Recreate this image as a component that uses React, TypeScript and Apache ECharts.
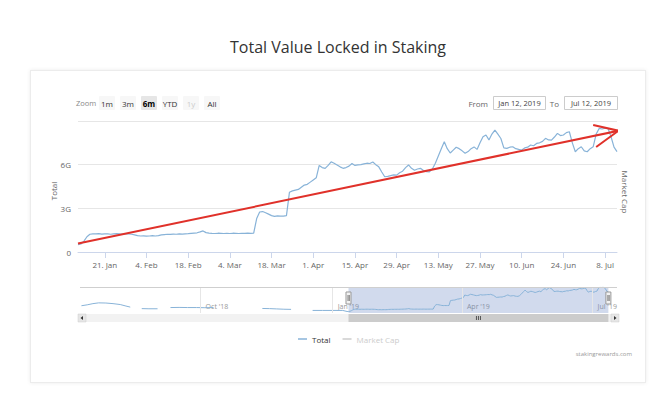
import React, { useEffect, useRef } from "react";
import * as echarts from "echarts";

// ---------- data ----------
const chartTitle = "Total Value Locked in Staking";
const startDate = "2019-01-12";
// Total value locked (billions USD), one value per day from 12 Jan 2019 to 12 Jul 2019
const totalValues = [
  0.5, 0.55, 0.75, 1.05, 1.22, 1.25, 1.24, 1.26, 1.23, 1.25,
  1.24, 1.22, 1.25, 1.26, 1.24, 1.23, 1.25, 1.24, 1.22, 1.18,
  1.13, 1.1, 1.11, 1.09, 1.1, 1.12, 1.1, 1.13, 1.18, 1.2,
  1.22, 1.21, 1.23, 1.22, 1.24, 1.23, 1.25, 1.26, 1.28, 1.3,
  1.32, 1.38, 1.45, 1.33, 1.3, 1.28, 1.27, 1.29, 1.28, 1.27,
  1.28, 1.27, 1.29, 1.28, 1.27, 1.28, 1.28, 1.29, 1.28, 1.3,
  2.3, 2.75, 2.78, 2.7, 2.6, 2.5, 2.45, 2.48, 2.46, 2.47,
  2.5, 4.1, 4.2, 4.25, 4.3, 4.45, 4.6, 4.65, 4.8, 4.95,
  5.1, 5.95, 5.8, 5.75, 5.95, 6.2, 6.1, 5.98, 5.85, 5.75,
  5.8, 5.9, 6.08, 5.95, 5.98, 6.0, 6.05, 6.1, 6.08, 6.18,
  6.0, 5.85, 5.5, 5.17, 5.2, 5.25, 5.3, 5.28, 5.45, 5.55,
  5.8, 5.98, 5.75, 5.62, 5.7, 5.75, 5.6, 5.52, 5.5, 5.7,
  6.1, 6.6, 7.1, 7.58, 7.1, 6.8, 7.0, 7.2, 7.1, 6.95,
  6.78, 6.9, 7.1, 7.22, 7.05, 7.5, 7.92, 8.04, 7.7, 8.1,
  8.38, 8.1, 7.8, 7.15, 7.12, 7.2, 7.23, 7.1, 7.05, 7.01,
  7.15, 7.2, 7.35, 7.3, 7.46, 7.5, 7.6, 7.81, 7.7, 7.69,
  7.9, 8.15, 8.0, 8.04, 8.2, 8.26, 7.5, 6.89, 7.1, 7.23,
  6.95, 6.89, 7.1, 7.23, 8.1, 8.49, 8.45, 8.5, 8.48, 7.92,
  7.2, 6.9,
];
const marketCapValues: number[] = [];

const tickDates = [
  "2019-01-21", "2019-02-04", "2019-02-18", "2019-03-04", "2019-03-18", "2019-04-01", "2019-04-15",
  "2019-04-29", "2019-05-13", "2019-05-27", "2019-06-10", "2019-06-24", "2019-07-08",
];
const tickLabels = [
  "21. Jan", "4. Feb", "18. Feb", "4. Mar", "18. Mar", "1. Apr", "15. Apr",
  "29. Apr", "13. May", "27. May", "10. Jun", "24. Jun", "8. Jul",
];
const yTickValues = [0, 3, 6, 9];
const yTickLabels = ["0", "3G", "6G", ""];

// navigator: earlier history (gaps = "-")
const navDates2018 = [
  "2018-07-10", "2018-07-14", "2018-07-18", "2018-07-22", "2018-07-27", "2018-08-01", "2018-08-06",
  "2018-08-10", "2018-08-13", "2018-08-17", "2018-08-21", "2018-08-26", "2018-09-01", "2018-09-05",
  "2018-09-10", "2018-09-16", "2018-09-22", "2018-09-28", "2018-10-04", "2018-10-10", "2018-10-14",
  "2018-11-13", "2018-11-18", "2018-11-23", "2018-11-28", "2018-12-03", "2018-12-08", "2018-12-18",
  "2018-12-25", "2019-01-01", "2019-01-08", "2019-01-11",
];
const navValues2018: (number | string)[] = [
  2.4, 2.7, 3.1, 3.35, 3.3, 3.1, 2.8,
  2.3, 1.95, "-", 1.45, 1.4, 1.4, "-",
  1.8, 1.85, 1.8, 1.8, 1.75, 1.8, "-",
  1.5, 1.45, 1.35, 1.25, 1.2, "-", 0.85,
  0.85, 0.85, 0.85, 0.5,
];
const navTickDates = ["2018-10-01", "2019-01-01", "2019-04-01", "2019-07-01"];
const navTickLabels = ["Oct '18", "Jan '19", "Apr '19", "Jul '19"];
const navMin = "2018-07-09";
const navMax = "2019-07-18";
const selectionStart = "2019-01-12";
const selectionEnd = "2019-07-12";

// red annotation arrow (data coordinates)
const arrowShaft: [string, number][] = [["2019-01-12", 0.58], ["2019-07-12T12:00:00Z", 8.33]];
const arrowHead: [string, number][] = [["2019-07-04", 8.72], ["2019-07-12T12:00:00Z", 8.33], ["2019-07-05", 7.21]];

const rangeButtons = ["1m", "3m", "6m", "YTD", "1y", "All"];
const selectedButton = "6m";
const disabledButtons = ["1y"];
const fromText = "Jan 12, 2019";
const toText = "Jul 12, 2019";
const creditText = "stakingrewards.com";

// ---------- helpers ----------
const DAY = 86400000;
const ts = (s: string) => Date.parse(s.length <= 10 ? s + "T00:00:00Z" : s);
const FONT = '"Open Sans", "Noto Sans", sans-serif';
const BLUE = "#88b3d8";
const RED = "#e0312a";

const tickTimes = tickDates.map(ts);
const navTickTimes = navTickDates.map(ts);
const t0 = ts(startDate);
const mainData = totalValues.map((v, i) => [t0 + i * DAY, v]);
const navData = navDates2018.map((d, i) => [ts(d), navValues2018[i]]).concat(mainData as any);

function buildOption(): any {
  return {
    animation: false,
    textStyle: { fontFamily: FONT },
    legend: {
      data: [{ name: "Total" }, { name: "Market Cap" }],
      left: 293,
      top: 330,
      icon: "rect",
      itemWidth: 9,
      itemHeight: 1.5,
      itemGap: 12,
      textStyle: { fontSize: 8, color: "#333", fontFamily: FONT },
      inactiveColor: "#cccccc",
      selected: { "Market Cap": false },
    },
    grid: [
      { left: 78, right: 49, top: 121, height: 131 },
      { left: 80, right: 49, top: 287, height: 26 },
    ],
    xAxis: [
      {
        type: "value",
        gridIndex: 0,
        min: ts(startDate),
        max: ts(selectionEnd),
        axisLine: { lineStyle: { color: "#ccd6eb" } },
        axisTick: { show: true, length: 6, lineStyle: { color: "#ccd6eb" }, customValues: tickTimes },
        axisLabel: {
          customValues: tickTimes,
          formatter: (v: number) => tickLabels[tickTimes.indexOf(v)] ?? "",
          color: "#666",
          fontSize: 8,
          margin: 8,
          fontFamily: FONT,
        },
        splitLine: { show: false },
      },
      {
        type: "value",
        gridIndex: 1,
        min: ts(navMin),
        max: ts(navMax),
        axisLine: { show: false },
        axisTick: { show: false },
        axisLabel: {
          customValues: navTickTimes,
          formatter: (v: number) => navTickLabels[navTickTimes.indexOf(v)] ?? "",
          inside: true,
          margin: 3,
          align: "left",
          padding: [0, 0, 0, 5],
          color: "#999",
          fontSize: 7,
          fontFamily: FONT,
        },
        splitLine: { show: false },
      },
    ],
    yAxis: [
      {
        type: "value",
        gridIndex: 0,
        min: 0,
        max: 9,
        interval: 3,
        axisLine: { show: false },
        axisTick: { show: false },
        axisLabel: {
          formatter: (v: number) => yTickLabels[yTickValues.indexOf(v)] ?? "",
          color: "#666",
          fontSize: 8,
          margin: 7,
          padding: [0, 0, 6, 0],
          fontFamily: FONT,
        },
        splitLine: { lineStyle: { color: "#e6e6e6" } },
      },
      { type: "value", gridIndex: 1, min: 0, max: 8.6, show: false },
    ],
    series: [
      {
        name: "Total",
        type: "line",
        xAxisIndex: 0,
        yAxisIndex: 0,
        data: mainData,
        symbol: "none",
        lineStyle: { color: BLUE, width: 1.2 },
        itemStyle: { color: BLUE },
        z: 3,
      },
      {
        name: "Market Cap",
        type: "line",
        xAxisIndex: 0,
        yAxisIndex: 0,
        data: marketCapValues,
        symbol: "none",
        lineStyle: { color: "#434348", width: 1 },
        itemStyle: { color: "#434348" },
      },
      {
        name: "navigator",
        type: "line",
        xAxisIndex: 1,
        yAxisIndex: 1,
        data: navData,
        symbol: "none",
        connectNulls: false,
        lineStyle: { color: BLUE, width: 1 },
        itemStyle: { color: BLUE },
        markArea: {
          silent: true,
          itemStyle: { color: "rgba(102,133,194,0.3)" },
          data: [[{ xAxis: ts(selectionStart) }, { xAxis: ts(selectionEnd) }]],
        },
        markLine: {
          silent: true,
          symbol: ["none", "none"],
          label: { show: false },
          lineStyle: { color: "#e6e6e6", type: "solid", width: 1 },
          data: navTickTimes.map((t) => ({ xAxis: t })),
        },
      },
      {
        name: "arrowShaft",
        type: "line",
        xAxisIndex: 0,
        yAxisIndex: 0,
        data: arrowShaft.map(([d, v]) => [ts(d), v]),
        symbol: "none",
        clip: false,
        lineStyle: { color: RED, width: 2 },
        z: 6,
      },
      {
        name: "arrowHead",
        type: "line",
        xAxisIndex: 0,
        yAxisIndex: 0,
        data: arrowHead.map(([d, v]) => [ts(d), v]),
        symbol: "none",
        clip: false,
        lineStyle: { color: RED, width: 2, join: "miter" },
        z: 6,
      },
    ],
  };
}

function buildGraphics(x0: number, x1: number): any[] {
  const g: any[] = [];
  const txt = (x: number, y: number, text: string, extra: any = {}, rot = 0) => ({
    type: "text",
    x,
    y,
    rotation: rot,
    z: 10,
    style: {
      text,
      fontFamily: FONT,
      fontSize: 8,
      fill: "#666",
      align: "left",
      verticalAlign: "middle",
      ...extra,
    },
  });
  g.push(txt(338, 47, chartTitle, { fontSize: 16, fill: "#333", align: "center", fontWeight: 500 }));
  g.push(txt(53, 191, "Total", { align: "center" }, Math.PI / 2));
  g.push(txt(625, 192, "Market Cap", { align: "center" }, -Math.PI / 2));

  // range selector
  g.push(txt(76, 103, "Zoom", { fill: "#888", fontSize: 7.5 }));
  rangeButtons.forEach((b, i) => {
    const cx = 107 + i * 21;
    const sel = b === selectedButton;
    const dis = disabledButtons.includes(b);
    g.push({
      type: "rect",
      z: 9,
      shape: { x: cx - 8, y: 96, width: 16, height: 14, r: 1 },
      style: { fill: sel ? "#e6e6e6" : "#f7f7f7" },
    });
    g.push(
      txt(cx, 103, b, {
        align: "center",
        fill: dis ? "#cccccc" : sel ? "#000" : "#333",
        fontWeight: sel ? "bold" : "normal",
      })
    );
  });

  // from / to inputs
  g.push(txt(488, 103, "From", { align: "right" }));
  g.push({ type: "rect", z: 9, shape: { x: 493.5, y: 96.5, width: 52, height: 13 }, style: { fill: "#fff", stroke: "#cccccc", lineWidth: 1 } });
  g.push(txt(519.5, 103, fromText, { align: "center", fill: "#444", fontSize: 7.5 }));
  g.push(txt(559, 103, "To", { align: "right" }));
  g.push({ type: "rect", z: 9, shape: { x: 564.5, y: 96.5, width: 53, height: 13 }, style: { fill: "#fff", stroke: "#cccccc", lineWidth: 1 } });
  g.push(txt(591, 103, toText, { align: "center", fill: "#444", fontSize: 7.5 }));

  // navigator outline
  g.push({ type: "line", z: 9, shape: { x1: 80, y1: 287.5, x2: 617, y2: 287.5 }, style: { stroke: "#cfcfcf", lineWidth: 1 } });

  // scrollbar
  g.push({ type: "rect", z: 9, shape: { x: 78, y: 314, width: 541, height: 8 }, style: { fill: "#f2f2f2" } });
  g.push({ type: "rect", z: 10, shape: { x: x0, y: 314, width: x1 - x0, height: 8 }, style: { fill: "#cccccc" } });
  [-2, 0, 2].forEach((d) => {
    const cx = (x0 + x1) / 2 + d;
    g.push({ type: "line", z: 11, shape: { x1: cx, y1: 316, x2: cx, y2: 320 }, style: { stroke: "#333", lineWidth: 0.8 } });
  });
  g.push({ type: "rect", z: 10, shape: { x: 78, y: 314, width: 8, height: 8 }, style: { fill: "#e6e6e6", stroke: "#cccccc", lineWidth: 0.5 } });
  g.push({ type: "polygon", z: 11, shape: { points: [[80.5, 318], [83, 316], [83, 320]] }, style: { fill: "#333" } });
  g.push({ type: "rect", z: 10, shape: { x: 611, y: 314, width: 8, height: 8 }, style: { fill: "#e6e6e6", stroke: "#cccccc", lineWidth: 0.5 } });
  g.push({ type: "polygon", z: 11, shape: { points: [[616.5, 318], [614, 316], [614, 320]] }, style: { fill: "#333" } });

  // handles
  [x0, x1].forEach((x) => {
    g.push({ type: "rect", z: 11, shape: { x: x - 2.5, y: 292, width: 5, height: 12 }, style: { fill: "#f2f2f2", stroke: "#999", lineWidth: 1 } });
    g.push({ type: "line", z: 12, shape: { x1: x - 0.5, y1: 295, x2: x - 0.5, y2: 301 }, style: { stroke: "#333", lineWidth: 0.6 } });
    g.push({ type: "line", z: 12, shape: { x1: x + 0.8, y1: 295, x2: x + 0.8, y2: 301 }, style: { stroke: "#333", lineWidth: 0.6 } });
  });

  g.push(txt(632, 354, creditText, { align: "right", fontSize: 6, fill: "#999" }));
  return g;
}

export default function App() {
  const ref = useRef<HTMLDivElement>(null);
  useEffect(() => {
    if (!ref.current) return;
    const chart = echarts.init(ref.current, undefined, { renderer: "svg" });
    chart.setOption(buildOption());
    const x0 = chart.convertToPixel({ xAxisIndex: 1 } as any, ts(selectionStart)) as unknown as number;
    const x1 = chart.convertToPixel({ xAxisIndex: 1 } as any, ts(selectionEnd)) as unknown as number;
    chart.setOption({ graphic: buildGraphics(x0, x1) });
    return () => chart.dispose();
  }, []);
  return (
    <div style={{ position: "fixed", left: 0, top: 0, width: 666, height: 395, background: "#fff" }}>
      <div
        style={{
          position: "absolute",
          left: 30,
          top: 70,
          width: 616,
          height: 313,
          border: "1px solid #ececec",
          boxShadow: "0 0 4px rgba(0,0,0,0.08)",
          boxSizing: "border-box",
          background: "#fff",
        }}
      />
      <div ref={ref} style={{ position: "absolute", left: 0, top: 0, width: 666, height: 395 }} />
    </div>
  );
}
